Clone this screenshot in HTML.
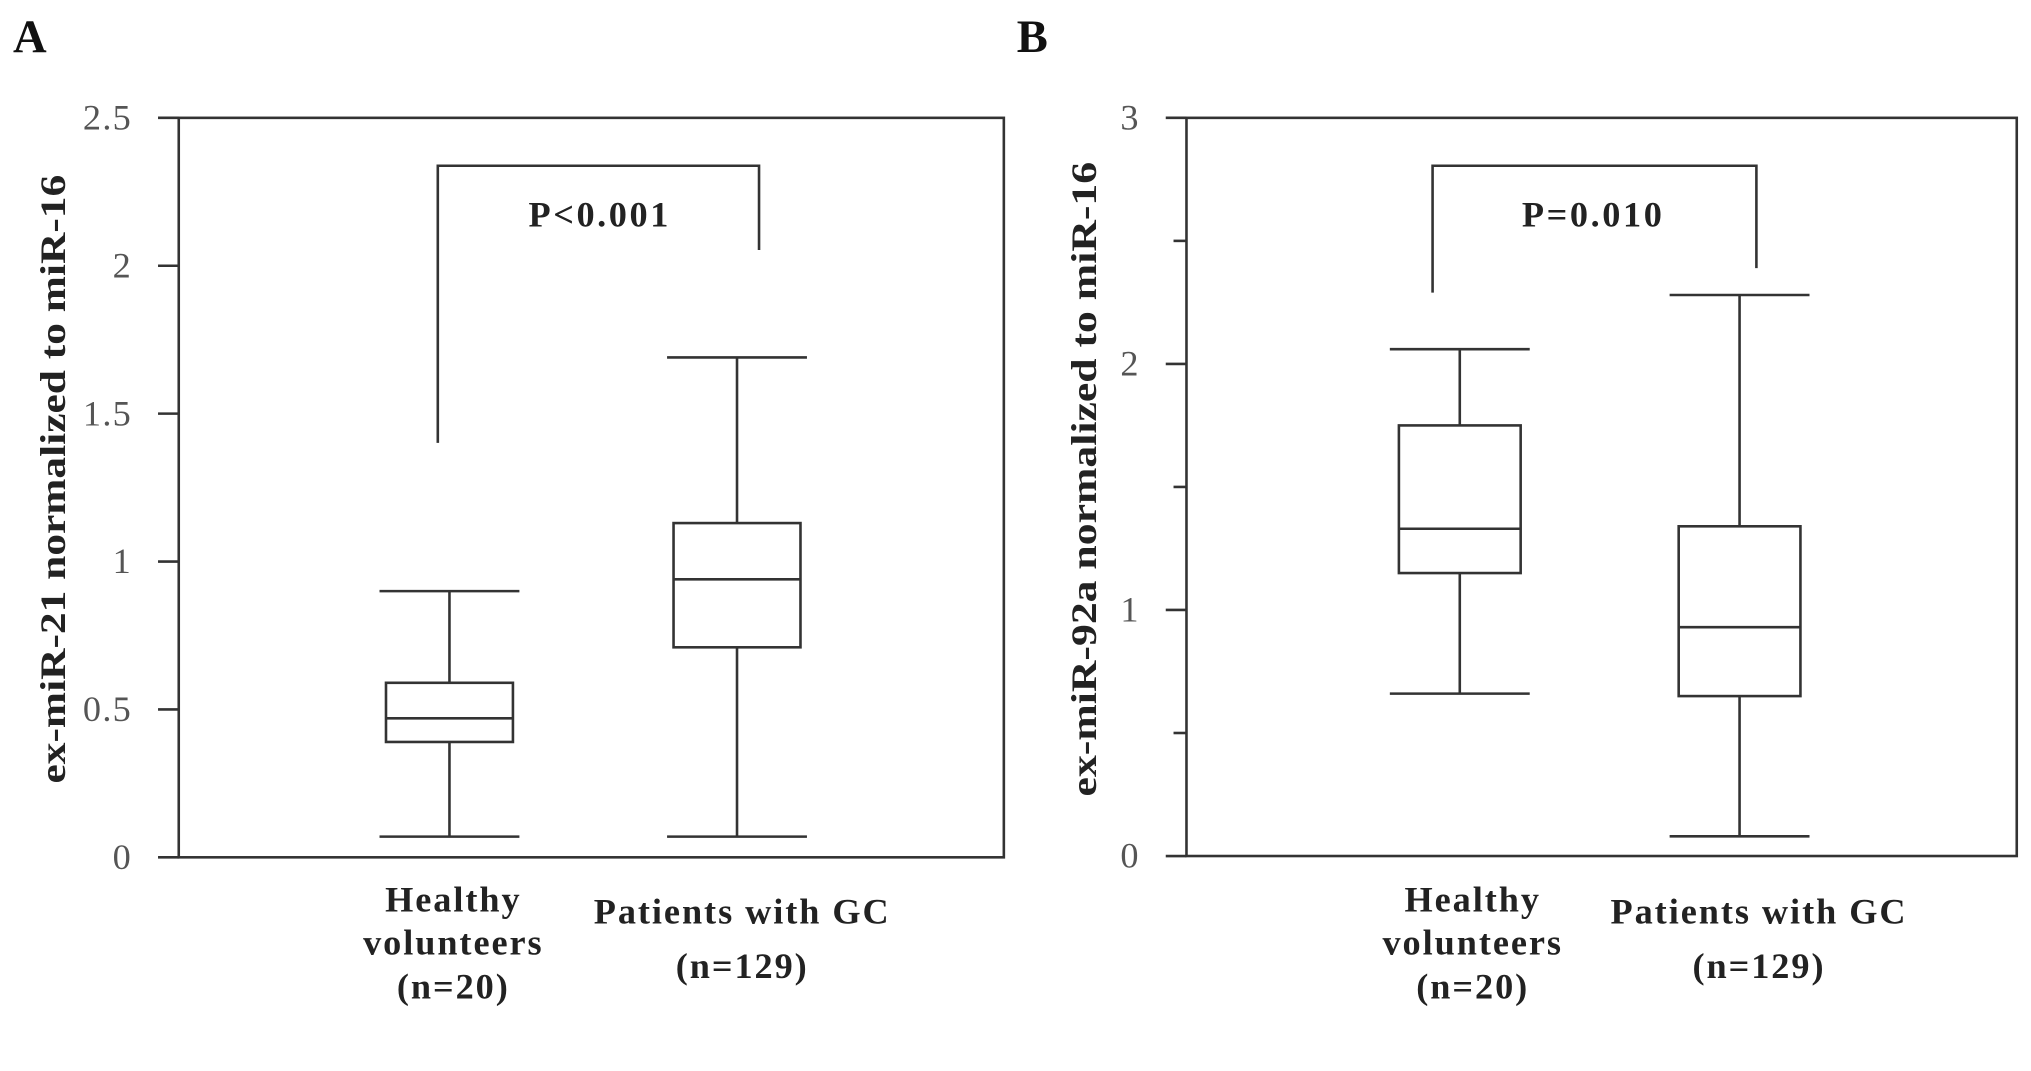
<!DOCTYPE html>
<html><head><meta charset="utf-8"><style>
html,body{margin:0;padding:0;background:#fff;}
svg{display:block;}
text{font-family:"Liberation Serif",serif;}
</style></head><body>
<svg id="fig" width="2031" height="1071" viewBox="0 0 1568 827" preserveAspectRatio="none" xmlns="http://www.w3.org/2000/svg">
<rect width="1568" height="827" fill="#fff"/>
<text x="10" y="40" font-size="36" font-weight="bold" fill="#111">A</text>
<text x="785" y="40" font-size="36" font-weight="bold" fill="#111">B</text>
</svg>
<script>
// Panel A data
const catsA = ["Healthy volunteers (n=20)", "Patients with GC (n=129)"];
const minA = [0.07, 0.07];
const q1A = [0.39, 0.71];
const medA = [0.47, 0.94];
const q3A = [0.59, 1.13];
const maxA = [0.90, 1.69];
const ticksA = ["0","0.5","1","1.5","2","2.5"];
const tickValsA = [0,0.5,1,1.5,2,2.5];
// Panel B data
const catsB = ["Healthy volunteers (n=20)", "Patients with GC (n=129)"];
const minB = [0.66, 0.08];
const q1B = [1.15, 0.65];
const medB = [1.33, 0.93];
const q3B = [1.75, 1.34];
const maxB = [2.06, 2.28];
const ticksB = ["0","1","2","3"];
const tickValsB = [0,1,2,3];
const minorB = [0.5,1.5,2.5];

const NS = "http://www.w3.org/2000/svg";
const svg = document.getElementById('fig');
function mk(tag, attrs, parent){
  const e = document.createElementNS(NS, tag);
  for (const k in attrs) e.setAttribute(k, attrs[k]);
  (parent||svg).appendChild(e);
  return e;
}
const stroke = {stroke:"#333", "stroke-width":"2", fill:"none"};

function panel(o){
  const g = mk('g', {});
  
  
  const y = v => o.y0 - (v - o.vmin) / (o.vmax - o.vmin) * (o.y0 - o.y1);
  const frame = mk('rect', Object.assign({x:o.x0, y:o.y1, width:o.x1-o.x0, height:o.y0-o.y1}, stroke), g);
  
  
  o.tickVals.forEach((v,i)=>{
    const t = mk('line', Object.assign({x1:o.x0-16, x2:o.x0, y1:y(v), y2:y(v)}, stroke), g);
    
    
    const lb = mk('text', {x:o.x0-36, y:y(v)+9, "text-anchor":"end", "font-size":"28", fill:"#555", "letter-spacing":"1"}, g);
    lb.textContent = o.ticks[i];
    
    
  });
  (o.minor||[]).forEach(v=>{
    const t = mk('line', Object.assign({x1:o.x0-10, x2:o.x0, y1:y(v), y2:y(v)}, stroke), g);
    
    
  });
  const yl = mk('text', {x:0, y:0, transform:`translate(${o.ylx},370) rotate(-90)`, "text-anchor":"middle", "font-size":"28", "font-weight":"bold", fill:"#222", textLength:o.ylLen, lengthAdjust:"spacingAndGlyphs"}, g);
  yl.textContent = o.ylabel;
  
  
  o.cx.forEach((cx,i)=>{
    const bg = mk('g', {}, g);
    
    
    const hw = o.hw, cw = o.cw;
    mk('line', Object.assign({x1:cx, x2:cx, y1:y(o.max[i]), y2:y(o.q3[i])}, stroke), bg);
    mk('line', Object.assign({x1:cx, x2:cx, y1:y(o.q1[i]), y2:y(o.min[i])}, stroke), bg);
    mk('line', Object.assign({x1:cx-cw, x2:cx+cw, y1:y(o.max[i]), y2:y(o.max[i])}, stroke), bg);
    mk('line', Object.assign({x1:cx-cw, x2:cx+cw, y1:y(o.min[i]), y2:y(o.min[i])}, stroke), bg);
    mk('rect', Object.assign({x:cx-hw, y:y(o.q3[i]), width:2*hw, height:y(o.q1[i])-y(o.q3[i])}, stroke), bg);
    mk('line', Object.assign({x1:cx-hw, x2:cx+hw, y1:y(o.med[i]), y2:y(o.med[i])}, stroke), bg);
  });
  const lines1 = [["Healthy",694],["volunteers",727],["(n=20)",761]];
  const lines2 = [["Patients with GC",703],["(n=129)",745]];
  [lines1, lines2].forEach((ls, i)=>{
    ls.forEach(([s,yy])=>{
      const t = mk('text', {x:o.lx[i], y:yy+10, "text-anchor":"middle", "font-size":"28", "font-weight":"bold", fill:"#222", "letter-spacing":"1.5"}, g);
      t.textContent = s;
      
      
    });
  });
  const br = mk('polyline', Object.assign({points:`${o.br[0]},${o.br[1]} ${o.br[0]},128 ${o.br[2]},128 ${o.br[2]},${o.br[3]}`}, stroke), g);
  
  
  const p = mk('text', {x:o.px, y:175, "text-anchor":"middle", "font-size":"28", "font-weight":"bold", fill:"#222", "letter-spacing":"2"}, g);
  p.textContent = o.ptext;
  
  
}

panel({name:"panel-a", x0:138, x1:775, y0:662, y1:91, vmin:0, vmax:2.5,
  ticks:ticksA, tickVals:tickValsA, ylabel:"ex-miR-21 normalized to miR-16", ylx:50, ylLen:470,
  cx:[347,569], hw:49, cw:54, min:minA, q1:q1A, med:medA, q3:q3A, max:maxA,
  lx:[350,573], br:[338,342,586,193], px:463, ptext:"P<0.001"});
panel({name:"panel-b", x0:916, x1:1557, y0:661, y1:91, vmin:0, vmax:3,
  ticks:ticksB, tickVals:tickValsB, minor:minorB, ylabel:"ex-miR-92a normalized to miR-16", ylx:846, ylLen:490,
  cx:[1127,1343], hw:47, cw:54, min:minB, q1:q1B, med:medB, q3:q3B, max:maxB,
  lx:[1137,1358], br:[1106,226,1356,207], px:1230, ptext:"P=0.010"});
</script>
</body></html>
